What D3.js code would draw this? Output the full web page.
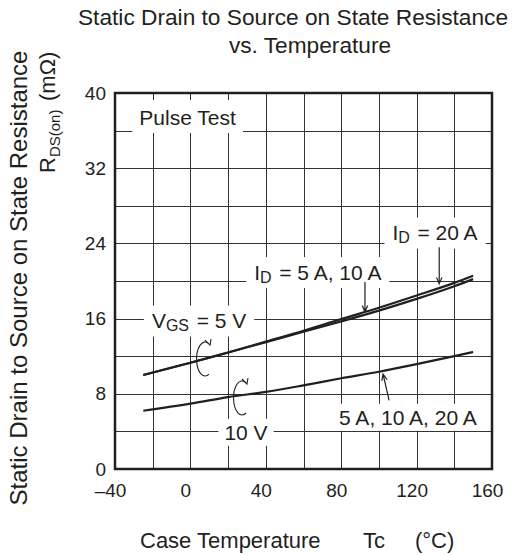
<!DOCTYPE html>
<html lang="en">
<head>
<meta charset="utf-8">
<title>RDS(on) vs Temperature</title>
<script src="https://cdn.jsdelivr.net/npm/d3@7"></script>
<style>
  body { margin: 0; background: #fff; }
  svg text { font-family: "Liberation Sans", Arial, sans-serif; fill: #231f20; }
</style>
</head>
<body>
<div id="chart"></div>
<script>
// data
var temps   = [-25, 0, 20, 40, 60, 80, 100, 120, 140, 150];
var id20A   = [10.0, 11.3, 12.4, 13.55, 14.7, 15.95, 17.15, 18.45, 19.8, 20.55];
var id5_10A = [10.0, 11.3, 12.4, 13.5, 14.6, 15.7, 16.85, 18.1, 19.45, 20.2];
var vgs10V  = [6.2, 6.95, 7.65, 8.2, 8.9, 9.65, 10.35, 11.15, 12.0, 12.45];

var xTicks = [-40, 0, 40, 80, 120, 160];
var yTicks = [0, 8, 16, 24, 32, 40];

var w = 531, h = 555;
var ink = "#231f20";

var svg = d3.select("#chart").append("svg")
  .attr("width", w).attr("height", h);

var x = d3.scaleLinear().domain([-40, 160]).range([115, 492]);
var y = d3.scaleLinear().domain([0, 40]).range([469, 93]);

// grid
var grid = svg.append("g");
grid.selectAll(".vg").data(d3.range(-20, 160, 20)).enter().append("line")
  .attr("x1", d => Math.round(x(d)) + 0.5).attr("x2", d => Math.round(x(d)) + 0.5)
  .attr("y1", y(0)).attr("y2", y(40))
  .attr("stroke", "#333").attr("stroke-width", 1);
grid.selectAll(".hg").data(d3.range(4, 40, 4)).enter().append("line")
  .attr("y1", d => Math.round(y(d)) + 0.5).attr("y2", d => Math.round(y(d)) + 0.5)
  .attr("x1", x(-40)).attr("x2", x(160))
  .attr("stroke", "#333").attr("stroke-width", 1);

// axes (labels only)
var xAxis = d3.axisBottom(x).tickValues(xTicks).tickSize(0).tickPadding(15)
  .tickFormat(d => d < 0 ? "\u2013" + Math.abs(d) : d);
svg.append("g").attr("transform", "translate(0," + y(0) + ")").call(xAxis)
  .call(g => g.select(".domain").remove())
  .selectAll("text").attr("font-size", 19).attr("font-family", null).attr("dx", -5);

var yAxis = d3.axisLeft(y).tickValues(yTicks).tickSize(0).tickPadding(9);
svg.append("g").attr("transform", "translate(" + x(-40) + ",0)").call(yAxis)
  .call(g => g.select(".domain").remove())
  .selectAll("text").attr("font-size", 19).attr("font-family", null);

// curves
var line = d3.line().x((d, i) => x(temps[i])).y(d => y(d)).curve(d3.curveMonotoneX);
var curves = svg.append("g").attr("fill", "none").attr("stroke", ink);
curves.append("path").attr("d", line(vgs10V)).attr("stroke-width", 2.2);
curves.append("path").attr("d", line(id5_10A)).attr("stroke-width", 2.2);
curves.append("path").attr("d", line(id20A)).attr("stroke-width", 2.2);

// frame
svg.append("rect")
  .attr("x", x(-40)).attr("y", y(40))
  .attr("width", x(160) - x(-40)).attr("height", y(0) - y(40))
  .attr("fill", "none").attr("stroke", ink).attr("stroke-width", 2.5);

// labels with white boxes
var notes = svg.append("g");
function label(tx, ty, parts, padX, padY) {
  var g = notes.append("g");
  var bg = g.append("rect").attr("fill", "#fff");
  var t = g.append("text").attr("x", x(tx)).attr("y", y(ty))
    .attr("text-anchor", "middle").attr("dominant-baseline", "central").attr("font-size", 21);
  parts.forEach(function (p) {
    if (p.sub) {
      t.append("tspan").attr("font-size", 16).attr("dy", 5).text(p.sub);
      t.append("tspan").attr("dy", -5).text("\u200A");
    } else {
      t.append("tspan").text(p.t);
    }
  });
  var b = t.node().getBBox();
  bg.attr("x", b.x - padX).attr("y", b.y - padY)
    .attr("width", b.width + 2 * padX).attr("height", b.height + 2 * padY);
}

label(-1.5, 37.5, [{t: "Pulse Test"}], 7, 5);
label(129.8, 25.2, [{t: "I"}, {sub: "D"}, {t: " = 20 A"}], 8, 3);
label(67.6, 21.0, [{t: "I"}, {sub: "D"}, {t: " = 5 A, 10 A"}], 8, 3);
label(4.6, 15.85, [{t: "V"}, {sub: "GS"}, {t: " = 5 V"}], 8, 3);
label(29.5, 3.9, [{t: "10 V"}], 6, 2);
label(115.4, 5.5, [{t: "5 A, 10 A, 20 A"}], 6, 2);

// pointer arrows
function arrow(t1, v1, t2, v2) {
  var x1 = x(t1), y1 = y(v1), x2 = x(t2), y2 = y(v2);
  var a = Math.atan2(y2 - y1, x2 - x1), L = 7, s = 0.4;
  var p = "M" + x1 + "," + y1 + "L" + x2 + "," + y2 +
    "M" + (x2 - L * Math.cos(a - s)) + "," + (y2 - L * Math.sin(a - s)) +
    "L" + x2 + "," + y2 +
    "L" + (x2 - L * Math.cos(a + s)) + "," + (y2 - L * Math.sin(a + s));
  notes.append("path").attr("d", p).attr("fill", "none")
    .attr("stroke", ink).attr("stroke-width", 1.2);
}
arrow(132, 23.6, 132, 19.7);
arrow(92.6, 19.9, 92.6, 16.7);
arrow(105.4, 7.3, 102.2, 10.1);

// rotation marks around the VGS curves
function turn(t, v) {
  var cx = x(t), cy = y(v);
  var g = notes.append("g").attr("transform", "translate(" + cx + "," + cy + ")")
    .attr("fill", "none").attr("stroke", ink).attr("stroke-width", 1.1);
  g.append("path").attr("d", "M6,16 A8.5,17 0 1 1 5,-15");
  g.append("path").attr("d", "M2,-18 L7,-13 L8,-19");
}
turn(6.7, 11.8);
turn(26.3, 7.66);

// titles
svg.append("text").attr("x", 293).attr("y", 25).attr("text-anchor", "middle")
  .attr("font-size", 22.7).text("Static Drain to Source on State Resistance");
svg.append("text").attr("x", 310).attr("y", 53).attr("text-anchor", "middle")
  .attr("font-size", 22.7).text("vs. Temperature");

var xt = svg.append("text").attr("y", 548).attr("font-size", 22);
xt.append("tspan").attr("x", 140).text("Case Temperature");
xt.append("tspan").attr("x", 363).text("Tc");
xt.append("tspan").attr("x", 415).text("(\u00B0C)");

svg.append("text").attr("transform", "translate(27,278) rotate(-90)")
  .attr("text-anchor", "middle").attr("font-size", 24)
  .text("Static Drain to Source on State Resistance");

var yt = svg.append("text").attr("transform", "translate(55,0) rotate(-90)")
  .attr("font-size", 22);
yt.append("tspan").attr("x", -173).text("R");
yt.append("tspan").attr("font-size", 15).attr("dy", 5).text("DS(on)");
yt.append("tspan").attr("x", -101).attr("dy", -5).text("(m\u03A9)");
</script>
</body>
</html>
